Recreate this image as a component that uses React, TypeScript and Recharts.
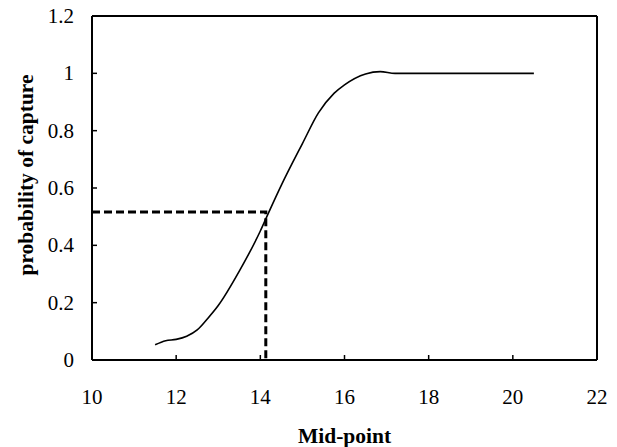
import { LineChart, Line, XAxis, YAxis, ReferenceLine, Label } from 'recharts';

// capture curve
const midPoints = [11.5, 11.75, 12, 12.25, 12.5, 12.75, 13, 13.5, 14, 14.2, 14.5, 15, 15.38, 15.75, 16, 16.5, 16.85, 17.2, 18, 19, 20, 20.5];
const capture = [0.053, 0.067, 0.072, 0.083, 0.105, 0.145, 0.19, 0.31, 0.45, 0.515, 0.61, 0.755, 0.862, 0.93, 0.96, 0.998, 1.006, 1.0, 1.0, 1.0, 1.0, 1.0];

// L50 guide (dashed)
const guideX = [10, 14.13, 14.13];
const guideY = [0.516, 0.516, 0];

const xTicks = [10, 12, 14, 16, 18, 20, 22];
const yTicks = [0, 0.2, 0.4, 0.6, 0.8, 1, 1.2];

const curve = midPoints.map((x, i) => ({ x, p: capture[i] }));
const guide = guideX.map((x, i) => ({ x, g: guideY[i] }));

const FONT = '"Liberation Serif", "Times New Roman", serif';

// eslint-disable-next-line @typescript-eslint/no-explicit-any
const XTick = ({ x, y, payload }: any) => (
  <g>
    <line x1={x} x2={x} y1={y} y2={y - 5} stroke="#000" strokeWidth={1.5} />
    <text x={x} y={y + 44} textAnchor="middle" fontSize={21} fontFamily={FONT} fill="#000">
      {payload.value}
    </text>
  </g>
);

// eslint-disable-next-line @typescript-eslint/no-explicit-any
const YTick = ({ x, y, payload }: any) => (
  <g>
    <line x1={x} x2={x + 5} y1={y} y2={y} stroke="#000" strokeWidth={1.5} />
    <text x={x - 18} y={y + 7} textAnchor="end" fontSize={21} fontFamily={FONT} fill="#000">
      {payload.value}
    </text>
  </g>
);

export default function App() {
  return (
    <div style={{ position: 'absolute', left: 0, top: 0, background: '#fff' }}>
      <LineChart width={617} height={447} margin={{ top: 16, right: 20, bottom: 0, left: 0 }}>
        <XAxis
          dataKey="x"
          type="number"
          domain={[10, 22]}
          ticks={xTicks}
          allowDataOverflow
          tickSize={0}
          tickMargin={0}
          tickLine={false}
          tick={<XTick />}
          height={87}
          stroke="#000"
          strokeWidth={2}
        >
          <Label
            value="Mid-point"
            position="insideBottom"
            offset={4}
            style={{ fontFamily: FONT, fontSize: 21.5, fontWeight: 'bold', fill: '#000' }}
          />
        </XAxis>
        <YAxis
          type="number"
          domain={[0, 1.2]}
          ticks={yTicks}
          allowDataOverflow
          tickSize={0}
          tickMargin={0}
          tickLine={false}
          tick={<YTick />}
          width={92}
          stroke="#000"
          strokeWidth={2}
        >
          <Label
            content={() => (
              <text
                transform="translate(26,175) rotate(-90)"
                textAnchor="middle"
                dominantBaseline="central"
                fontFamily={FONT}
                fontSize={21.5}
                fontWeight="bold"
                fill="#000"
              >
                probability of capture
              </text>
            )}
          />
        </YAxis>
        <ReferenceLine y={1.2} stroke="#000" strokeWidth={2} />
        <ReferenceLine x={22} stroke="#000" strokeWidth={2} />
        <Line
          data={curve}
          dataKey="p"
          type="monotone"
          stroke="#000"
          strokeWidth={1.6}
          dot={false}
          isAnimationActive={false}
        />
        <Line
          data={guide}
          dataKey="g"
          type="linear"
          stroke="#000"
          strokeWidth={3}
          strokeDasharray="8 4"
          dot={false}
          isAnimationActive={false}
        />
      </LineChart>
    </div>
  );
}
